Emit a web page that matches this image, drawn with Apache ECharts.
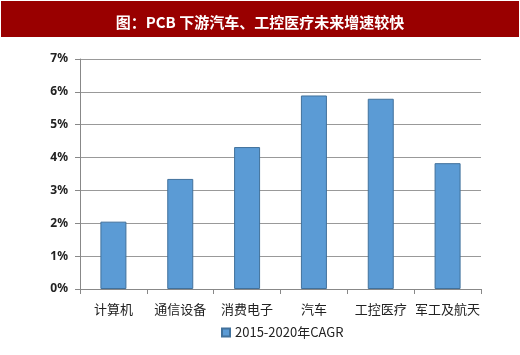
<!DOCTYPE html>
<html><head><meta charset="utf-8">
<script src="https://cdn.jsdelivr.net/npm/echarts@6/dist/echarts.min.js"></script>
<style>html,body{margin:0;padding:0;background:#fff}#c{width:520px;height:355px}</style>
</head><body><div id="c"></div>
<script>
var titleText = '图：PCB 下游汽车、工控医疗未来增速较快';
var categories = ['计算机','通信设备','消费电子','汽车','工控医疗','军工及航天'];
var seriesName = '2015-2020年CAGR';
var values = [2.05, 3.35, 4.32, 5.89, 5.79, 3.83];
var yTicks = [0,1,2,3,4,5,6,7];

var chart = echarts.init(document.getElementById('c'), null, {renderer:'canvas'});
chart.setOption({
  animation:false,
  backgroundColor:'#fff',
  graphic:[{type:'rect', left:1, top:1, shape:{width:518, height:36}, style:{fill:'#990000'}, z:0}],
  title:{text:titleText, left:'center', top:10, textStyle:{color:'#fff', fontSize:15, fontWeight:'bold', fontFamily:'Noto Sans CJK SC'}},
  grid:{left:80, right:39, top:59, bottom:66},
  legend:{bottom:11, left:216, itemWidth:8, itemHeight:8, icon:'rect', itemGap:4,
    textStyle:{color:'#222', fontSize:13, fontFamily:'Noto Sans CJK SC'}, data:[seriesName]},
  xAxis:{type:'category', data:categories,
    axisLine:{lineStyle:{color:'#888'}},
    axisTick:{show:true, alignWithLabel:false, length:5, lineStyle:{color:'#888'}},
    axisLabel:{color:'#222', fontSize:13, margin:14, interval:0, fontFamily:'Noto Sans CJK SC'}},
  yAxis:{type:'value', min:0, max:7, interval:1,
    axisLine:{show:true, lineStyle:{color:'#888'}},
    axisTick:{show:true, length:5, lineStyle:{color:'#888'}},
    splitLine:{lineStyle:{color:'#999'}},
    axisLabel:{color:'#222', fontSize:12, margin:12, fontFamily:'Noto Sans', fontWeight:'bold',
      formatter:function(v){return v+'%';}}},
  series:[{name:seriesName, type:'bar', data:values, barWidth:26,
    itemStyle:{color:'#5b9bd5', borderColor:'#41719c', borderWidth:1}}]
});
</script></body></html>
